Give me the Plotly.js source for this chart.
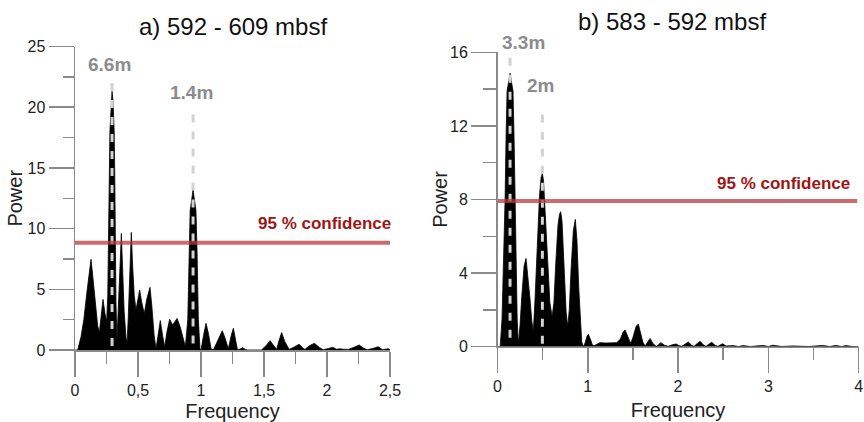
<!DOCTYPE html>
<html>
<head>
<meta charset="utf-8">
<script src="https://cdn.plot.ly/plotly-3.0.1.min.js"></script>
<style>
  html, body { margin: 0; padding: 0; background: #fff; }
  #chart { width: 864px; height: 422px; }
</style>
</head>
<body>
<div id="chart"></div>
<script>
// Panel a) 592 - 609 mbsf : power spectrum
const leftFreq = [0, 0.021, 0.048, 0.07, 0.095, 0.115, 0.127, 0.14, 0.16, 0.18, 0.193, 0.205, 0.222, 0.238, 0.251,
  0.26, 0.268, 0.272, 0.277, 0.287, 0.294, 0.301, 0.311, 0.316, 0.32, 0.325, 0.333,
  0.34, 0.35, 0.36, 0.368, 0.375, 0.39, 0.405, 0.413, 0.422, 0.435, 0.447, 0.456, 0.47, 0.484,
  0.498, 0.513, 0.53, 0.55, 0.57, 0.595, 0.61, 0.628, 0.643, 0.66, 0.677, 0.695, 0.712, 0.73, 0.751,
  0.775, 0.81, 0.835, 0.86, 0.876, 0.895, 0.905, 0.914, 0.937, 0.96, 0.969, 0.979, 0.992,
  1.0, 1.02, 1.04, 1.06, 1.08, 1.098, 1.125, 1.15, 1.169, 1.19, 1.217, 1.24, 1.257, 1.275, 1.29,
  1.315, 1.33, 1.35, 1.37, 1.48, 1.52, 1.548, 1.575, 1.6, 1.62, 1.64, 1.665, 1.70, 1.74, 1.778,
  1.81, 1.825, 1.86, 1.9, 1.94, 1.97, 2.01, 2.045, 2.075, 2.1, 2.13, 2.17, 2.22, 2.256, 2.29, 2.32,
  2.37, 2.407, 2.44, 2.487, 2.5];
const leftPower = [0, 0, 1.1, 2.5, 4.8, 6.8, 7.47, 6.2, 3.8, 2.0, 1.43, 2.6, 4.17, 3.0, 2.33,
  4.5, 9, 14, 18, 20.6, 21.3, 20.6, 18, 14, 9, 4, 0.8,
  2.5, 6.0, 8.8, 9.6, 7.5, 3.2, 1.0, 0.55, 2.5, 6.5, 9.69, 7.2, 4.5, 3.3,
  4.2, 4.94, 3.9, 3.0, 4.2, 5.16, 3.6, 1.2, 0.1, 1.4, 2.42, 1.2, 0.27, 1.5, 2.53,
  2.06, 2.6, 1.9, 0.9, 0.27, 2.5, 8, 11.5, 13.2, 11.5, 8, 2.5, 0.1,
  0, 1.2, 2.2, 1.3, 0.1, 0, 0.6, 1.3, 1.59, 1.0, 0.1, 1.2, 1.79, 0.8, 0,
  0.1, 0.2, 0.05, 0, 0, 0.4, 0.77, 0.35, 0.05, 0.8, 1.43, 0.7, 0.05, 0.25, 0.47,
  0.15, 0.05, 0.35, 0.55, 0.2, 0.02, 0.12, 0.22, 0.06, 0.1, 0.06, 0.05, 0.25, 0.41, 0.15, 0.02,
  0.15, 0.27, 0.03, 0.1, 0];

// Panel b) 583 - 592 mbsf : power spectrum
const rightFreq = [0, 0.03, 0.05, 0.07, 0.084, 0.094, 0.106, 0.12, 0.139, 0.158, 0.172, 0.184, 0.194, 0.205, 0.218, 0.231,
  0.25, 0.27, 0.295, 0.316, 0.335, 0.36, 0.38, 0.397, 0.415, 0.44, 0.465, 0.483, 0.497, 0.51, 0.53, 0.555, 0.58, 0.605,
  0.625, 0.645, 0.67, 0.687, 0.7, 0.715, 0.74, 0.76, 0.778, 0.795, 0.815, 0.84, 0.862, 0.88, 0.9, 0.92, 0.933, 0.95,
  0.97, 0.99, 1.006, 1.03, 1.05, 1.07, 1.1, 1.135, 1.2, 1.26, 1.32, 1.36, 1.39, 1.413, 1.44, 1.475, 1.5, 1.535, 1.56,
  1.585, 1.61, 1.635, 1.66, 1.69, 1.725, 1.76, 1.785, 1.81, 1.85, 1.89, 1.935, 1.978, 2.01, 2.04, 2.08, 2.114, 2.15,
  2.177, 2.21, 2.244, 2.28, 2.31, 2.34, 2.373, 2.41, 2.44, 2.47, 2.495, 2.53, 2.61, 2.67, 2.72, 2.8, 2.94, 3.0, 3.05,
  3.15, 3.27, 3.45, 3.6, 3.68, 3.75, 3.81, 3.86, 3.93, 4.0];
const rightPower = [0, 0, 1.5, 5, 8, 11.2, 13.9, 14.3, 14.86, 14.3, 13.9, 11.2, 8, 4.5, 1.5, 0.15,
  1.2, 2.8, 4.4, 4.8, 4.0, 2.6, 1.4, 0.82, 2.5, 5.5, 8.2, 9.2, 9.42, 9.0, 7.2, 4.5, 2.4, 1.63,
  2.4, 4.5, 6.6, 7.2, 7.34, 6.8, 4.0, 1.9, 1.09, 2.0, 4.2, 6.3, 6.92, 5.8, 3.2, 1.0, 0.27, 0,
  0.2, 0.55, 0.67, 0.4, 0.1, 0.05, 0.15, 0.22, 0.2, 0.22, 0.22, 0.4, 0.78, 0.91, 0.6, 0.18, 0.5, 1.1, 1.23,
  0.8, 0.25, 0.04, 0.25, 0.45, 0.15, 0.02, 0.12, 0.22, 0.08, 0.02, 0.1, 0.15, 0.06, 0.02, 0.15, 0.25, 0.08,
  0.02, 0.16, 0.29, 0.1, 0.02, 0.13, 0.24, 0.08, 0.02, 0.1, 0.16, 0.04, 0.06, 0.01, 0.06, 0.01, 0.07, 0.01, 0.08,
  0.01, 0.04, 0.01, 0.07, 0.01, 0.07, 0.01, 0.06, 0.01, 0];

// 95 % confidence levels
const leftConfidence = 8.84;
const rightConfidence = 7.92;

// Significant cycles (frequency of the peak and its thickness label)
const leftCycleFreq = [0.294, 0.937];
const leftCycleLabels = ['6.6m', '1.4m'];
const rightCycleFreq = [0.139, 0.497];
const rightCycleLabels = ['3.3m', '2m'];

// Tick labels
const leftXTickVals = [0, 0.5, 1, 1.5, 2, 2.5];
const leftXTickText = ['0', '0,5', '1', '1,5', '2', '2,5'];
const leftYTickVals = [0, 5, 10, 15, 20, 25];
const rightXTickVals = [0, 1, 2, 3, 4];
const rightYTickVals = [0, 4, 8, 12, 16];

const panelTitles = ['a) 592 - 609 mbsf', 'b) 583 - 592 mbsf'];

// ---- styling ----
const FONT_FAMILY = 'Liberation Sans, Arial, sans-serif';
const AXIS_GREY = '#8a8a8a';
const TICK_FONT = { family: FONT_FAMILY, size: 16, color: '#222' };
const TITLE_FONT = { family: FONT_FAMILY, size: 20, color: '#222' };
const CONF_RED = 'rgba(188, 56, 56, 0.74)';
const CONF_TEXT = '#a11414';
const CYCLE_GREY = '#8c8c8c';
const DASH_GREY = '#d2d2d2';

function spectrumTrace(x, y, xa, ya) {
  return {
    x: x, y: y, xaxis: xa, yaxis: ya, type: 'scatter', mode: 'lines',
    fill: 'tozeroy', fillcolor: '#000',
    line: { color: '#000', width: 0.8, shape: 'linear' },
    hoverinfo: 'skip'
  };
}

function confidenceTrace(level, xmax, xa, ya) {
  return {
    x: [0, xmax], y: [level, level], xaxis: xa, yaxis: ya, type: 'scatter', mode: 'lines',
    line: { color: CONF_RED, width: 4 }, hoverinfo: 'skip'
  };
}

function cycleTrace(freq, top, xa, ya) {
  return {
    x: [freq, freq], y: [top, 0], xaxis: xa, yaxis: ya, type: 'scatter', mode: 'lines',
    line: { color: DASH_GREY, width: 3, dash: '8px,9px' }, hoverinfo: 'skip'
  };
}

// top of each dashed marker line, in power units
const leftDashTop = [22.0, 19.4];
const rightDashTop = [15.7, 12.6];

const traces = [
  spectrumTrace(leftFreq, leftPower, 'x', 'y'),
  spectrumTrace(rightFreq, rightPower, 'x2', 'y2'),
  ...leftCycleFreq.map((f, i) => cycleTrace(f, leftDashTop[i], 'x', 'y')),
  ...rightCycleFreq.map((f, i) => cycleTrace(f, rightDashTop[i], 'x2', 'y2')),
  confidenceTrace(leftConfidence, 2.5, 'x', 'y'),
  confidenceTrace(rightConfidence, 3.985, 'x2', 'y2')
];

function axisBase() {
  return {
    showline: true, linecolor: AXIS_GREY, linewidth: 1.5,
    ticks: 'outside', tickcolor: AXIS_GREY, tickwidth: 1.5, ticklen: 25,
    showgrid: false, zeroline: false, fixedrange: true,
    tickfont: TICK_FONT, tickmode: 'array'
  };
}

const W = 864, H = 422;
const layout = {
  width: W, height: H,
  margin: { l: 0, r: 0, t: 0, b: 0 },
  paper_bgcolor: '#fff', plot_bgcolor: 'rgba(0,0,0,0)',
  showlegend: false,
  xaxis: Object.assign(axisBase(), {
    domain: [75 / W, 390 / W], range: [0, 2.5], anchor: 'y',
    tickvals: leftXTickVals, ticktext: leftXTickText,
    minor: { tickmode: 'linear', tick0: 0, dtick: 0.25, ticks: 'outside', ticklen: 12, tickcolor: AXIS_GREY, tickwidth: 1.5 },
    title: { text: 'Frequency', font: TITLE_FONT }
  }),
  yaxis: Object.assign(axisBase(), {
    domain: [(H - 350) / H, (H - 46.5) / H], range: [0, 25], anchor: 'x',
    tickvals: leftYTickVals,
    minor: { tickmode: 'linear', tick0: 0, dtick: 2.5, ticks: 'outside', ticklen: 11, tickcolor: AXIS_GREY, tickwidth: 1.5 },
    title: { text: 'Power', font: TITLE_FONT }
  }),
  xaxis2: Object.assign(axisBase(), {
    domain: [497.5 / W, 858.6 / W], range: [0, 4], anchor: 'y2',
    tickvals: rightXTickVals,
    minor: { tickmode: 'linear', tick0: 0, dtick: 0.5, ticks: 'outside', ticklen: 12, tickcolor: AXIS_GREY, tickwidth: 1.5 },
    title: { text: 'Frequency', font: TITLE_FONT }
  }),
  yaxis2: Object.assign(axisBase(), {
    domain: [(H - 346.7) / H, (H - 52.3) / H], range: [0, 16], anchor: 'x2',
    tickvals: rightYTickVals,
    minor: { tickmode: 'linear', tick0: 0, dtick: 2, ticks: 'outside', ticklen: 13, tickcolor: AXIS_GREY, tickwidth: 1.5 },
    title: { text: 'Power', font: TITLE_FONT }
  }),
  annotations: [
    { text: panelTitles[0], xref: 'paper', yref: 'paper', x: 233 / W, y: 1 - 27 / H,
      xanchor: 'center', yanchor: 'middle', showarrow: false,
      font: { family: FONT_FAMILY, size: 24, color: '#111' } },
    { text: panelTitles[1], xref: 'paper', yref: 'paper', x: 672 / W, y: 1 - 21 / H,
      xanchor: 'center', yanchor: 'middle', showarrow: false,
      font: { family: FONT_FAMILY, size: 24, color: '#111' } },
    { text: '95 % confidence', xref: 'x', yref: 'y', x: 2.5, y: leftConfidence, yshift: 19, xshift: 3,
      xanchor: 'right', yanchor: 'middle', showarrow: false,
      font: { family: FONT_FAMILY, size: 17, color: CONF_TEXT, weight: 'bold' } },
    { text: '95 % confidence', xref: 'x2', yref: 'y2', x: 3.93, y: rightConfidence, yshift: 17,
      xanchor: 'right', yanchor: 'middle', showarrow: false,
      font: { family: FONT_FAMILY, size: 17, color: CONF_TEXT, weight: 'bold' } },
    ...leftCycleLabels.map((t, i) => ({
      text: t, xref: 'x', yref: 'y', x: leftCycleFreq[i], y: leftDashTop[i], yshift: [18, 22][i], xshift: [-2.5, -2][i],
      xanchor: 'center', yanchor: 'middle', showarrow: false,
      font: { family: FONT_FAMILY, size: 19, color: CYCLE_GREY, weight: 'bold' }
    })),
    ...rightCycleLabels.map((t, i) => ({
      text: t, xref: 'x2', yref: 'y2', x: rightCycleFreq[i], y: rightDashTop[i], yshift: [15.5, 29][i], xshift: [13, -2][i],
      xanchor: 'center', yanchor: 'middle', showarrow: false,
      font: { family: FONT_FAMILY, size: 19, color: CYCLE_GREY, weight: 'bold' }
    }))
  ]
};

Plotly.newPlot('chart', traces, layout, { staticPlot: true, displayModeBar: false });
</script>
</body>
</html>
